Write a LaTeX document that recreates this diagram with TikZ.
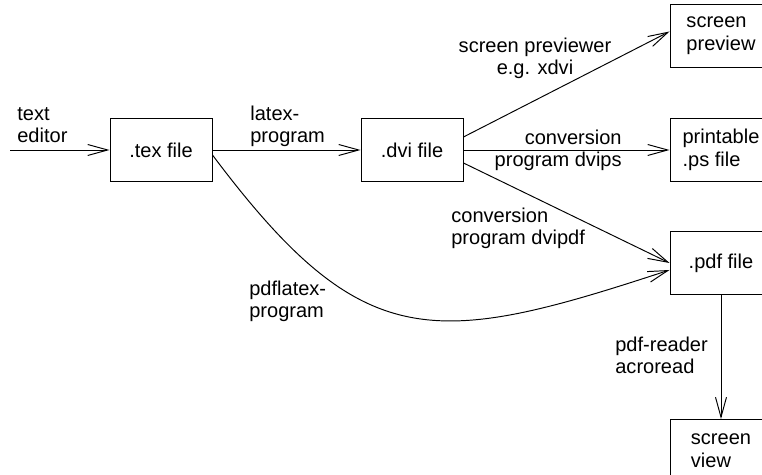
\documentclass[tikz,border=0pt]{standalone}
\usepackage{fontspec}
\setmainfont{Liberation Sans}
\usetikzlibrary{arrows.meta, positioning, calc}
\newcommand{\diagfont}{\fontsize{11.4}{12.9}\selectfont}
\tikzset{
    filebox/.style={
        draw, line width=0.55pt, minimum width=2.04cm, minimum height=1.26cm,
        inner sep=2pt, align=left, font=\diagfont
    },
    flow/.style={
        -{Straight Barb[length=0.4cm, width=0.22cm]}, line width=0.55pt
    },
    flowlabel/.style={
        inner sep=0pt, align=left, font=\diagfont
    }
}

\begin{document}
\begin{tikzpicture}[x=0.02cm, y=-0.02cm]
    \useasboundingbox (0,0) rectangle (762,475);

    % --- FILES ---
    \node[filebox] (tex) at (161,150) {.tex file};
    \node[filebox] (dvi) at (412,150) {.dvi file};
    \node[filebox] (preview) at (721,36) {screen\\preview};
    \node[filebox] (ps) at (721,150) {printable\\.ps file};
    \node[filebox] (pdf) at (721,263) {.pdf file};
    \node[filebox] (view) at (721,451) {screen\\view};
    \coordinate (editor) at (10,150);

    % --- ARROWS ---
    \draw[flow] (editor) -- (tex.west);
    \draw[flow] (tex.east) -- (dvi.west);
    \draw[flow] ([yshift=0.26cm]dvi.east) -- ([yshift=0.09cm]preview.west);
    \draw[flow] (dvi.east) -- (ps.west);
    \draw[flow] ([yshift=-0.26cm]dvi.east) -- (pdf.west);
    \draw[flow] ([yshift=-0.1cm]tex.east) .. controls +(150,200) and +(-237,78) .. ([yshift=-0.14cm]pdf.west);
    \draw[flow] (pdf.south) -- (view.north);

    % --- LABELS (anchored at the baseline of the last line) ---
    \node[flowlabel, anchor=base west] (editorlbl) at (17,143) {text\\editor};
    \node[flowlabel, anchor=base west] (latexlbl) at (250,143) {latex-\\program};
    \node[flowlabel, anchor=base, align=center] (previewlbl) at (535,75) {screen previewer\\e.g. xdvi};
    \node[flowlabel, anchor=base east, align=right] (dvipslbl) at (622,167) {conversion\\program dvips};
    \node[flowlabel, anchor=base west] (dvipdflbl) at (451,245) {conversion\\program dvipdf};
    \node[flowlabel, anchor=base west] (pdflatexlbl) at (249,318) {pdflatex-\\program};
    \node[flowlabel, anchor=base west] (readerlbl) at (615,374) {pdf-reader\\acroread};
\end{tikzpicture}
\end{document}
